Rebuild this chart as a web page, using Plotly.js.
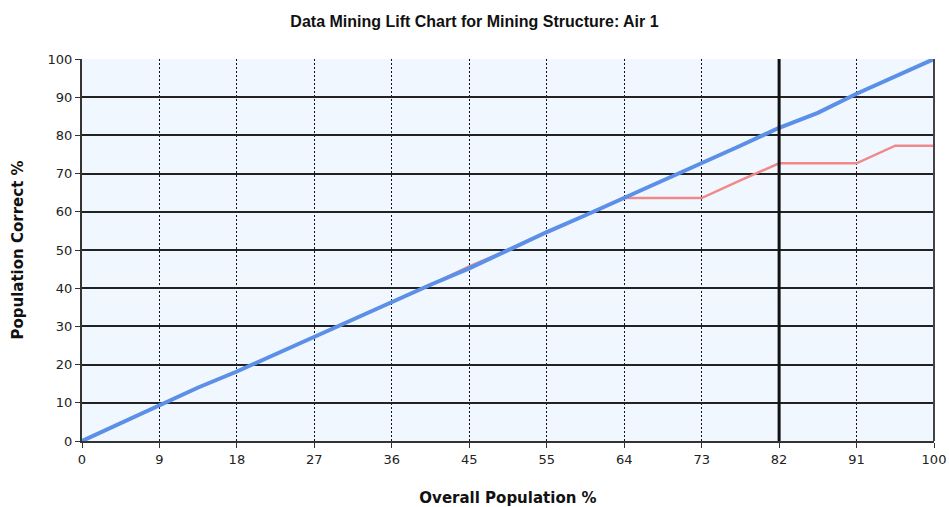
<!DOCTYPE html>
<html>
<head>
<meta charset="utf-8">
<script src="https://cdn.plot.ly/plotly-3.0.1.min.js"></script>
<style>html,body{margin:0;padding:0;background:#fff;}#chart{width:949px;height:507px;}</style>
</head>
<body>
<div id="chart"></div>
<script>
// Overall population % (22 equal steps)
const overallPct = [0, 4.55, 9.09, 13.64, 18.18, 22.73, 27.27, 31.82, 36.36, 40.91, 45.45, 50, 54.55, 59.09, 63.64, 68.18, 72.73, 77.27, 81.82, 86.36, 90.91, 95.45, 100];
// Blue series (population correct %)
const blueCorrect = [0, 4.6, 9.3, 14.0, 18.2, 22.8, 27.3, 31.9, 36.4, 40.9, 45.2, 50.0, 54.7, 59.1, 63.6, 68.2, 72.8, 77.3, 82.0, 85.9, 90.9, 95.5, 100];
// Red series (population correct %)
const redCorrect = [0, 4.6, 9.3, 14.0, 18.2, 22.8, 27.3, 31.9, 36.4, 40.9, 45.7, 50.0, 54.5, 59.1, 63.6, 63.6, 63.6, 68.2, 72.7, 72.7, 72.7, 77.3, 77.3];
// X tick positions and labels
const xTickVals = [0, 9.09, 18.18, 27.27, 36.36, 45.45, 54.55, 63.64, 72.73, 81.82, 90.91, 100];
const xTickText = ["0", "9", "18", "27", "36", "45", "55", "64", "73", "82", "91", "100"];
const yTickVals = [0, 10, 20, 30, 40, 50, 60, 70, 80, 90, 100];
// Highlighted population cut-off
const cutoffX = [81.82];

const tickFont = {family: "DejaVu Sans, Verdana, sans-serif", size: 13, color: "#222"};

const traces = [
  {x: overallPct, y: redCorrect, type: "scatter", mode: "lines",
   line: {color: "#F08A8A", width: 2.5}, hoverinfo: "x+y", showlegend: false},
  {x: overallPct, y: blueCorrect, type: "scatter", mode: "lines",
   line: {color: "#5B8FE8", width: 4}, hoverinfo: "x+y", showlegend: false}
];

const layout = {
  width: 949, height: 507,
  margin: {l: 82, r: 15, t: 59, b: 66},
  paper_bgcolor: "#ffffff",
  plot_bgcolor: "#F0F7FF",
  title: {text: "Data Mining Lift Chart for Mining Structure: Air 1",
          font: {family: "Liberation Sans, Arial, sans-serif", size: 16, color: "#111", weight: "bold"},
          x: 0.5, xanchor: "center", y: 0.958, yanchor: "middle"},
  xaxis: {
    range: [0, 100], tickmode: "array", tickvals: xTickVals, ticktext: xTickText,
    showgrid: true, gridcolor: "#111", gridwidth: 1, griddash: "2px,2px",
    showline: true, linecolor: "#333", linewidth: 2, mirror: false,
    ticks: "outside", ticklen: 5, tickcolor: "#333", tickwidth: 1,
    zeroline: false, tickfont: tickFont,
    title: {text: "Overall Population %", standoff: 28,
            font: {family: "DejaVu Sans, Verdana, sans-serif", size: 15, color: "#111", weight: "bold"}}
  },
  yaxis: {
    range: [0, 100], tickmode: "array", tickvals: yTickVals,
    showgrid: true, gridcolor: "#222", gridwidth: 2,
    showline: true, linecolor: "#333", linewidth: 2,
    ticks: "outside", ticklen: 5, tickcolor: "#333", tickwidth: 1,
    zeroline: false, tickfont: tickFont,
    title: {text: "Population Correct %", standoff: 20,
            font: {family: "DejaVu Sans, Verdana, sans-serif", size: 15, color: "#111", weight: "bold"}}
  },
  shapes: [
    {type: "line", xref: "x", yref: "paper", x0: cutoffX[0], x1: cutoffX[0], y0: 0, y1: 1,
     line: {color: "#111", width: 3}},
    {type: "line", xref: "paper", yref: "paper", x0: 1, x1: 1, y0: 0, y1: 1,
     line: {color: "#444", width: 2}}
  ]
};

Plotly.newPlot("chart", traces, layout, {displayModeBar: false, staticPlot: true});
</script>
</body>
</html>
